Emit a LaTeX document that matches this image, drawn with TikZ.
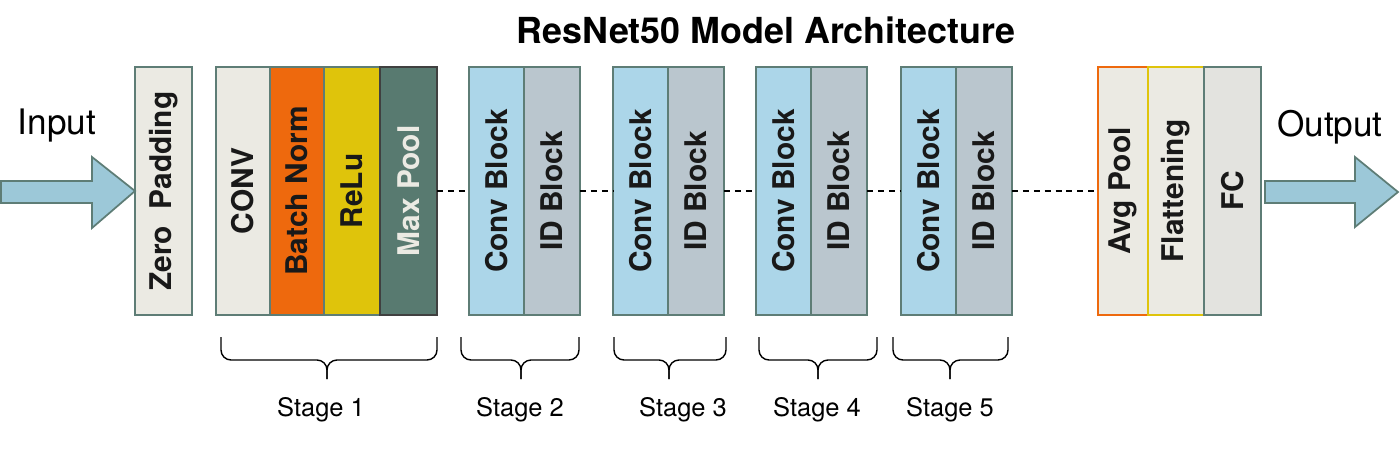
\documentclass[tikz,border=0pt]{standalone}
\usepackage{fontspec}
\setmainfont{TeX Gyre Heros}
\usepackage{tikz}
\usetikzlibrary{positioning}

\definecolor{edgegray}{RGB}{94,125,118}
\definecolor{padfill}{RGB}{235,234,227}
\definecolor{bnorange}{RGB}{238,105,13}
\definecolor{reluyellow}{RGB}{223,196,11}
\definecolor{poolgreen}{RGB}{88,122,112}
\definecolor{convblue}{RGB}{172,214,233}
\definecolor{idgray}{RGB}{186,198,206}
\definecolor{fcgray}{RGB}{227,227,223}
\definecolor{arrowblue}{RGB}{156,200,216}

\begin{document}
\begin{tikzpicture}[x=0.02cm, y=-0.02cm,
	layer/.style={draw=edgegray, line width=1pt, minimum height=4.96cm, inner sep=0pt, outer sep=0pt,
		text=black!90, font=\bfseries\fontsize{17pt}{20pt}\selectfont},
	link/.style={line width=0.85pt, dash pattern=on 3.4pt off 2.8pt},
	bigarrow/.style={draw=edgegray, line width=1pt, fill=arrowblue},
	stagebrace/.style={line width=0.8pt, rounded corners=0.2cm}]
	\useasboundingbox (0,0) rectangle (1400,451);
	\node[font=\bfseries\fontsize{20.4pt}{24pt}\selectfont] (title) at (766,30) {ResNet50 Model Architecture};
	% input side
	\node[font=\fontsize{20pt}{24pt}\selectfont] (input) at (57,126) {Input};
	\node[layer, fill=padfill, minimum width=1.14cm, anchor=west] (zp) at (135,191) {\rotatebox{90}{Zero\ \ Padding}};
	\draw[bigarrow] (1,181) -- (92,181) -- (92,157) -- (zp.west) -- (92,228) -- (92,203) -- (1,203) -- cycle;
	% stage 1
	\node[layer, fill=padfill, minimum width=1.08cm, anchor=west] (conv) at (216,191) {\rotatebox{90}{CONV}};
	\node[layer, fill=bnorange, minimum width=1.08cm, right=0pt of conv] (bn) {\rotatebox{90}{Batch Norm}};
	\node[layer, fill=reluyellow, minimum width=1.12cm, right=0pt of bn] (relu) {\rotatebox{90}{ReLu}};
	\node[layer, fill=poolgreen, draw=black!75, minimum width=1.14cm, right=0pt of relu, text=padfill] (maxpool) {\rotatebox{90}{Max Pool}};
	% stages 2 to 5
	\foreach \x/\n in {469/2, 613/3, 756/4, 901/5} {
		\node[layer, fill=convblue, minimum width=1.1cm, anchor=west] (cb\n) at (\x,191) {\rotatebox{90}{Conv Block}};
		\node[layer, fill=idgray, minimum width=1.12cm, right=0pt of cb\n] (id\n) {\rotatebox{90}{ID Block}};
	}
	% head
	\node[layer, fill=padfill, draw=bnorange, minimum width=1cm, anchor=west] (avg) at (1098,191) {\rotatebox{90}{Avg Pool}};
	\node[layer, fill=padfill, draw=reluyellow, minimum width=1.12cm, right=0pt of avg] (flat) {\rotatebox{90}{Flattening}};
	\node[layer, fill=fcgray, minimum width=1.14cm, right=0pt of flat] (fc) {\rotatebox{90}{FC}};
	\node[font=\fontsize{20pt}{24pt}\selectfont] (output) at (1330,127) {Output};
	\draw[bigarrow] (1265,181) -- (1355,181) -- (1355,157) -- (1398,192) -- (1355,227) -- (1355,203) -- (1265,203) -- cycle;
	% dashed links
	\draw[link] (maxpool.east) -- (cb2.west);
	\draw[link] (id2.east) -- (cb3.west);
	\draw[link] (id3.east) -- (cb4.west);
	\draw[link] (id4.east) -- (cb5.west);
	\draw[link] (id5.east) -- (avg.west);
	% stage braces
	\foreach \a/\m/\b/\c/\n in {221/327/437/321/1, 461/521/579/520/2, 614/669/726/683/3, 759/818/877/817/4, 893/950/1008/950/5} {
		\draw[stagebrace] (\a,337) -- (\a,360) -- (\m,360) -- (\m,379);
		\draw[stagebrace] (\b,337) -- (\b,360) -- (\m,360) -- (\m,379);
		\node[font=\fontsize{14.5pt}{17pt}\selectfont] (stage\n) at (\c,410) {Stage \n};
	}
\end{tikzpicture}
\end{document}
